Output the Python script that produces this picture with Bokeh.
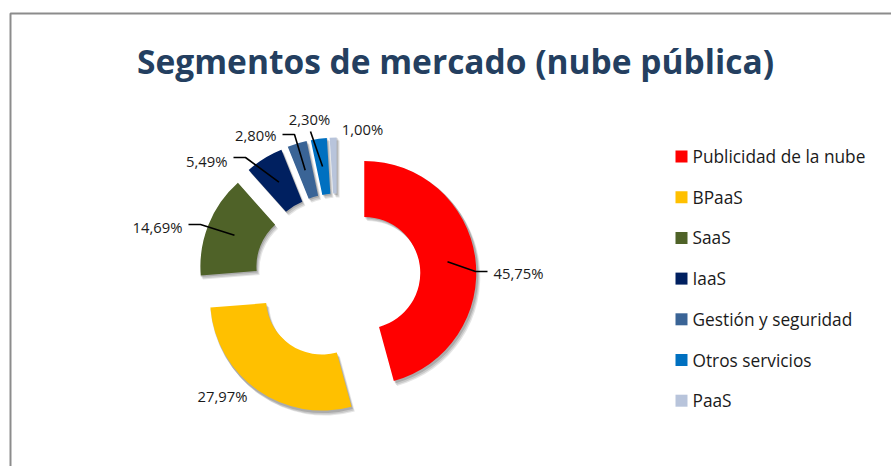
import math
from bokeh.plotting import figure
from bokeh.models import Range1d
from bokeh.core.properties import value
from bokeh.embed import file_html
from bokeh.resources import INLINE

# ---------------- data ----------------
title_text = "Segmentos de mercado (nube pública)"
categories = ["Publicidad de la nube", "BPaaS", "SaaS", "IaaS",
              "Gestión y seguridad", "Otros servicios", "PaaS"]
values = [45.75, 27.97, 14.69, 5.49, 2.80, 2.30, 1.00]
colors = ["#ff0000", "#ffc000", "#4f6228", "#002060",
          "#3a6496", "#0070c0", "#b8c4db"]
label_texts = [f"{v:.2f}".replace(".", ",") + "%" for v in values]

# ---------------- layout (screen px) ----------------
PW, PH = 891, 466
def Y(sy):
    return PH - sy

CX, CY = 337, Y(276)      # pie centre
R_OUT, R_IN = 112, 56      # ring radii
EXPLODE = 27               # explosion offset
R_MID = 84                 # leader start radius

# label layout: (elbow, end, text pos, align)  screen coords
label_layout = [
    ((475, 271), (487, 271), (493, 272), "left"),
    (None, None, (222, 395), "center"),
    ((200, 224), (188, 224), (182, 226), "right"),
    ((245, 157), (233, 157), (227, 160), "right"),
    ((294, 134), (282, 134), (276, 134), "right"),
    (None, (310, 131), (309, 118), "center"),
    (None, None, (362, 128), "center"),
]

p = figure(width=PW, height=PH, x_range=Range1d(0, PW), y_range=Range1d(0, PH),
           output_backend="svg", toolbar_location=None, min_border=0)
p.axis.visible = False
p.grid.visible = False
p.outline_line_color = None
p.background_fill_color = "white"
p.border_fill_color = "white"

# chart area border
p.quad(left=10, right=PW + 20, top=Y(13), bottom=-20, fill_color=None,
       line_color="#8c8c8c", line_width=2)

# title
p.text(x=[455], y=[Y(60)], text=[title_text], text_font=value("Open Sans"),
       text_font_style="bold", text_font_size="33.5px", text_color="#243f60",
       text_align="center", text_baseline="middle")

total = sum(values)
cum = 0.0
wx, wy, sa, ea, mids = [], [], [], [], []
for v in values:
    t0 = 2 * math.pi * cum / total
    t1 = 2 * math.pi * (cum + v) / total
    tm = (t0 + t1) / 2
    cx = CX + EXPLODE * math.sin(tm)
    cy = CY + EXPLODE * math.cos(tm)
    wx.append(cx); wy.append(cy)
    sa.append(math.pi / 2 - t0); ea.append(math.pi / 2 - t1)
    mids.append((cx + R_MID * math.sin(tm), cy + R_MID * math.cos(tm)))
    cum += v

# soft shadows
for dx, dy, a in [(3, -4, 0.10), (2, -3, 0.12), (1, -1.5, 0.15)]:
    p.annular_wedge(x=[x + dx for x in wx], y=[y + dy for y in wy],
                    inner_radius=R_IN, outer_radius=R_OUT + 1,
                    start_angle=sa, end_angle=ea, direction="clock",
                    fill_color="#000000", fill_alpha=a, line_color=None)

p.annular_wedge(x=wx, y=wy, inner_radius=R_IN, outer_radius=R_OUT,
                start_angle=sa, end_angle=ea, direction="clock",
                fill_color=colors, line_color=None)

# leader lines and labels
for i, (elbow, end, tpos, align) in enumerate(label_layout):
    if end is not None:
        xs = [mids[i][0]]; ys = [mids[i][1]]
        if elbow is not None:
            xs.append(elbow[0]); ys.append(Y(elbow[1]))
        xs.append(end[0]); ys.append(Y(end[1]))
        p.line(xs, ys, line_color="#000000", line_width=1.6)
    p.text(x=[tpos[0]], y=[Y(tpos[1])], text=[label_texts[i]],
           text_font=value("Open Sans"), text_font_size="14.8px",
           text_color="#1a1a1a", text_align=align, text_baseline="middle")

# legend
LEG_Y0, LEG_DY = 156, 40.7
leg_y = [Y(LEG_Y0 + i * LEG_DY) for i in range(len(categories))]
p.rect(x=[681] * len(categories), y=leg_y, width=12, height=12,
       fill_color=colors, line_color=None)
p.text(x=[692] * len(categories), y=leg_y, text=categories,
       text_font=value("Open Sans"), text_font_size="17.3px",
       text_color="#1a1a1a", text_align="left", text_baseline="middle")

open("out.html", "w").write(file_html(p, INLINE))
